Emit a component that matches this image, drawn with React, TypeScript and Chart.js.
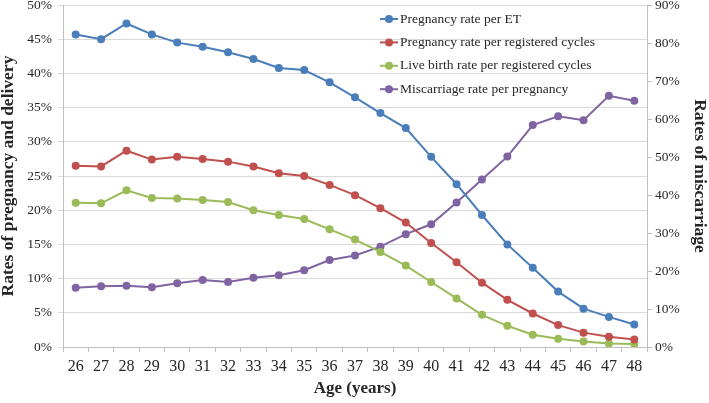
import React, { useEffect, useRef } from "react";
import { Chart, registerables } from "chart.js";

Chart.register(...registerables);

const ages = ["26","27","28","29","30","31","32","33","34","35","36","37","38","39","40","41","42","43","44","45","46","47","48"];
const pregnancyPerET = [45.7,45.0,47.3,45.7,44.5,43.9,43.1,42.1,40.8,40.5,38.7,36.5,34.2,32.0,27.8,23.8,19.3,15.0,11.6,8.1,5.6,4.4,3.3];
const pregnancyPerCycle = [26.5,26.4,28.7,27.4,27.8,27.5,27.1,26.4,25.4,25.0,23.7,22.2,20.3,18.2,15.2,12.4,9.4,6.9,4.9,3.2,2.1,1.5,1.1];
const liveBirthPerCycle = [21.1,21.0,22.9,21.8,21.7,21.5,21.2,20.0,19.3,18.7,17.2,15.7,13.9,11.9,9.5,7.1,4.7,3.1,1.8,1.2,0.8,0.5,0.45];
const miscarriagePerPregnancy = [15.6,16.0,16.1,15.7,16.8,17.6,17.1,18.2,18.9,20.2,22.9,24.1,26.4,29.7,32.3,38.0,44.1,50.1,58.4,60.7,59.7,66.1,64.8];

const seriesNames = [
  "Pregnancy rate per ET",
  "Pregnancy rate per registered cycles",
  "Live birth rate per registered cycles",
  "Miscarriage rate per pregnancy",
];
const seriesColors = ["#4A7EBB", "#C0504D", "#9BBB59", "#8064A2"];

const leftTitle = "Rates of pregnancy and delivery";
const rightTitle = "Rates of miscarriage";
const xTitle = "Age (years)";

const SERIF = "'Liberation Serif', 'Times New Roman', serif";
const GRID = "#d9d9d9";
const AXIS = "#bfbfbf";
const TEXT = "#262626";

const insideLegend = {
  id: "insideLegend",
  afterDraw(chart: any) {
    const { ctx, chartArea } = chart;
    const x0 = chartArea.left + 317;
    const y0 = chartArea.top + 14;
    const step = 23.4;
    ctx.save();
    ctx.font = `13.5px ${SERIF}`;
    ctx.textBaseline = "middle";
    ctx.textAlign = "left";
    chart.data.datasets.forEach((ds: any, i: number) => {
      const y = y0 + i * step;
      ctx.strokeStyle = ds.borderColor;
      ctx.lineWidth = 2;
      ctx.beginPath();
      ctx.moveTo(x0, y);
      ctx.lineTo(x0 + 18, y);
      ctx.stroke();
      ctx.fillStyle = ds.backgroundColor;
      ctx.beginPath();
      ctx.arc(x0 + 9, y, 4, 0, Math.PI * 2);
      ctx.fill();
      ctx.fillStyle = TEXT;
      ctx.fillText(ds.label, x0 + 20, y);
    });
    ctx.restore();
  },
};

export default function App() {
  const ref = useRef<HTMLCanvasElement | null>(null);

  useEffect(() => {
    if (!ref.current) return;
    const values = [pregnancyPerET, pregnancyPerCycle, liveBirthPerCycle, miscarriagePerPregnancy];
    const chart = new Chart(ref.current, {
      type: "line",
      data: {
        labels: ages,
        datasets: values.map((v, i) => ({
          label: seriesNames[i],
          data: v,
          yAxisID: i === 3 ? "y2" : "y",
          borderColor: seriesColors[i],
          backgroundColor: seriesColors[i],
          pointBackgroundColor: seriesColors[i],
          pointBorderColor: seriesColors[i],
          pointRadius: 4,
          pointBorderWidth: 0,
          borderWidth: 2,
          tension: 0,
        })),
      },
      options: {
        animation: false,
        responsive: false,
        devicePixelRatio: 1,
        layout: { padding: { top: 5, left: 0, right: 0, bottom: 0 } },
        plugins: { legend: { display: false }, tooltip: { enabled: false } },
        scales: {
          x: {
            type: "category",
            offset: true,
            afterFit: (s: any) => { s.height = 56; s.paddingLeft = 0; s.paddingRight = 0; },
            grid: { offset: true, drawOnChartArea: false, drawTicks: true, tickLength: 5, color: AXIS },
            border: { display: true, color: AXIS },
            ticks: { font: { family: SERIF, size: 16 }, color: TEXT, padding: 5, maxRotation: 0, autoSkip: false },
            title: { display: true, text: xTitle, font: { family: SERIF, size: 17, weight: "bold", lineHeight: 1 }, color: TEXT, padding: { top: 0, bottom: 6 } },
          },
          y: {
            position: "left",
            min: 0,
            max: 50,
            afterFit: (s: any) => { s.width = 63; s.paddingTop = 0; s.paddingBottom = 0; },
            ticks: { stepSize: 5, callback: (v: any) => `${v}%`, font: { family: SERIF, size: 13.5 }, color: TEXT, padding: 6 },
            grid: { color: GRID, tickLength: 5, drawTicks: true },
            border: { display: true, color: AXIS },
            title: { display: true, text: leftTitle, font: { family: SERIF, size: 17.5, weight: "bold", lineHeight: 1 }, color: TEXT, padding: { top: 0, bottom: 0 } },
          },
          y2: {
            position: "right",
            min: 0,
            max: 90,
            afterFit: (s: any) => { s.width = 62; s.paddingTop = 0; s.paddingBottom = 0; },
            ticks: { stepSize: 10, callback: (v: any) => `${v}%`, font: { family: SERIF, size: 13.5 }, color: TEXT, padding: 3 },
            grid: { drawOnChartArea: false, color: AXIS, tickLength: 5, drawTicks: true },
            border: { display: true, color: AXIS },
            title: { display: true, text: rightTitle, font: { family: SERIF, size: 17.5, weight: "bold", lineHeight: 1 }, color: TEXT, padding: { top: 1, bottom: 0 } },
          },
        },
      },
      plugins: [insideLegend],
    } as any);
    return () => chart.destroy();
  }, []);

  return (
    <div style={{ position: "fixed", left: 0, top: 0, width: 709, height: 403, background: "#fff" }}>
      <canvas ref={ref} width={709} height={403} style={{ display: "block", width: 709, height: 403 }} />
    </div>
  );
}
